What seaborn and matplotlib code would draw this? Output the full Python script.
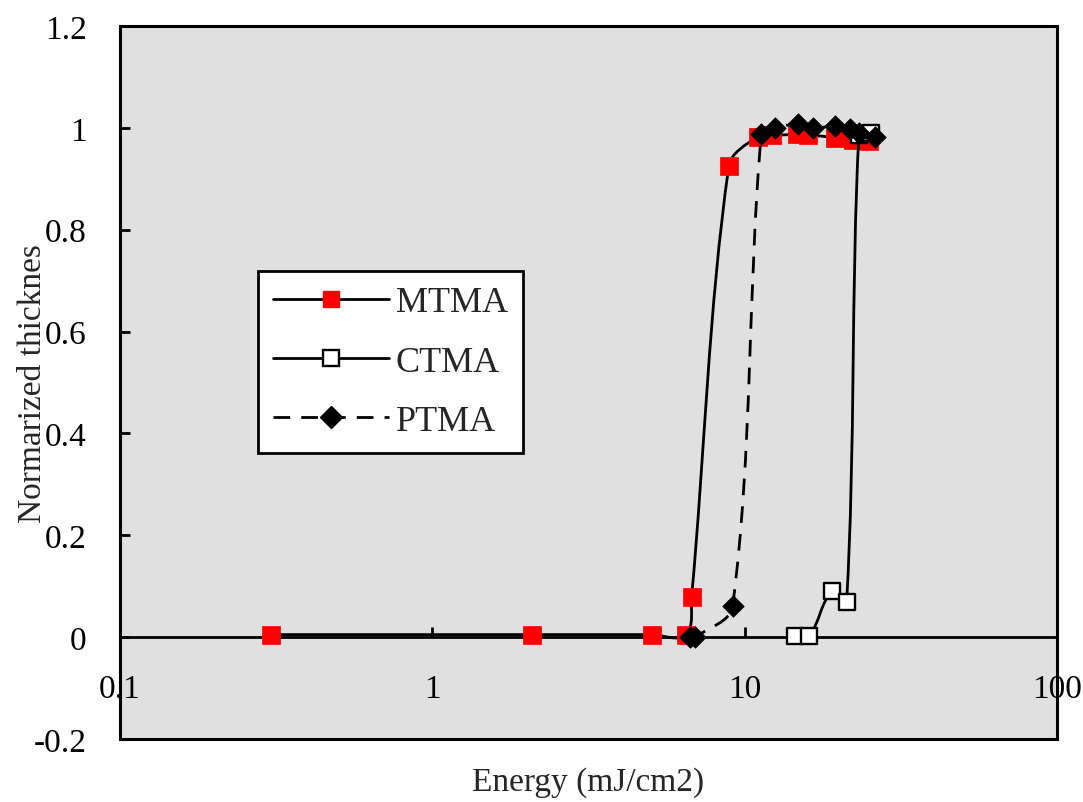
import numpy as np
import pandas as pd
import matplotlib
matplotlib.use("Agg")
import matplotlib.pyplot as plt
import seaborn as sns
from matplotlib.path import Path
from matplotlib.patches import PathPatch, Rectangle
from matplotlib.lines import Line2D
from matplotlib.ticker import FixedLocator, FixedFormatter, NullLocator

# ---- data ----
mtma_x = [0.304, 2.08, 5.04, 6.47, 6.76, 8.9, 11.0, 12.2, 14.7, 15.9, 19.4, 22.2, 25.1]
mtma_y = [0.005, 0.005, 0.005, 0.005, 0.078, 0.925, 0.983, 0.985, 0.987, 0.986, 0.981, 0.976, 0.975]
ctma_x = [14.45, 16.1, 19.1, 21.2, 23.2, 25.3]
ctma_y = [0.003, 0.003, 0.090, 0.069, 0.985, 0.990]
ptma_x = [6.7, 6.95, 9.15, 11.3, 12.5, 14.8, 16.5, 19.5, 21.8, 23.3, 26.1]
ptma_y = [0.0, 0.0, 0.061, 0.987, 1.0, 1.007, 1.0, 1.003, 0.997, 0.990, 0.983]

series_names = ["MTMA", "CTMA", "PTMA"]
x_ticks = [0.1, 1, 10, 100]
x_tick_labels = ["0.1", "1", "10", "100"]
y_ticks = [-0.2, 0, 0.2, 0.4, 0.6, 0.8, 1.0, 1.2]
y_tick_labels = ["-0.2", "0", "0.2", "0.4", "0.6", "0.8", "1", "1.2"]

sns.set_style("white")
plt.rcParams["font.family"] = ["Liberation Serif", "DejaVu Serif"]

W, H = 1083, 803
L, R, T, B = 120, 1057, 27, 740
fig = plt.figure(figsize=(W / 100, H / 100), dpi=100)
ax = fig.add_axes([L / W, 1 - B / H, (R - L) / W, (B - T) / H])
ax.set_facecolor("#e0e0e0")

# screen scale (pixels per decade / per y unit) used for smoothing geometry
PX_DEC = (R - L) / 3.0
PX_Y = (B - T) / 1.4


def smooth_path(xs, ys, k=0.33):
    """Excel-like smoothed line: Bezier segments whose tangents follow the
    neighbouring points, with handle length tied to the segment length."""
    P = np.column_stack([np.log10(xs) * PX_DEC, np.asarray(ys, float) * PX_Y])
    n = len(P)
    verts = [P[0]]
    codes = [Path.MOVETO]

    def unit(v):
        d = np.hypot(*v)
        return v / d if d > 0 else v

    for i in range(n - 1):
        p0 = P[i - 1] if i > 0 else P[i]
        p1, p2 = P[i], P[i + 1]
        p3 = P[i + 2] if i + 2 < n else P[i + 1]
        seg = np.hypot(*(p2 - p1)) * k
        c1 = p1 + unit(p2 - p0) * seg
        c2 = p2 - unit(p3 - p1) * seg
        verts += [c1, c2, p2]
        codes += [Path.CURVE4] * 3
    verts = np.array(verts)
    verts[:, 0] = 10 ** (verts[:, 0] / PX_DEC)
    verts[:, 1] = verts[:, 1] / PX_Y
    return Path(verts, codes)


lw = 2.0
dash = (0, (6, 4))
ls_styles = ["-", "-", dash]
all_x = [mtma_x, ctma_x, ptma_x]
all_y = [mtma_y, ctma_y, ptma_y]
for xs, ys, ls, z in zip(all_x, all_y, ls_styles, [3, 4, 5]):
    ax.add_patch(PathPatch(smooth_path(xs, ys), facecolor="none", edgecolor="black",
                           lw=lw, linestyle=ls, zorder=z))

df_m = pd.DataFrame({"x": mtma_x, "y": mtma_y})
df_c = pd.DataFrame({"x": ctma_x, "y": ctma_y})
df_p = pd.DataFrame({"x": ptma_x, "y": ptma_y})
sns.scatterplot(data=df_m, x="x", y="y", marker="s", s=150, color="red",
                edgecolor="red", linewidth=0.5, ax=ax, zorder=3.5)
sns.scatterplot(data=df_c, x="x", y="y", marker="s", s=120, color="white",
                edgecolor="black", linewidth=1.7, ax=ax, zorder=4.5)
sns.scatterplot(data=df_p, x="x", y="y", marker="D", s=120, color="black",
                edgecolor="black", linewidth=0.5, ax=ax, zorder=5.5)

ax.set_xscale("log")
ax.set_xlim(0.1, 100)
ax.set_ylim(-0.2, 1.2)

ax.xaxis.set_major_locator(FixedLocator(x_ticks))
ax.xaxis.set_major_formatter(FixedFormatter(x_tick_labels))
ax.xaxis.set_minor_locator(NullLocator())
ax.yaxis.set_major_locator(FixedLocator(y_ticks))
ax.yaxis.set_major_formatter(FixedFormatter(y_tick_labels))

# axis line at y=0, full frame around the plot area
ax.spines["bottom"].set_position(("data", 0))
for s in ax.spines.values():
    s.set_color("black")
    s.set_linewidth(2)
ax.add_patch(Rectangle((0, 0), 1, 1, transform=ax.transAxes, fill=False,
                       edgecolor="black", lw=2.2, zorder=6, clip_on=False))

fs = 24
ax.tick_params(axis="x", direction="in", length=7, width=2, pad=26,
               labelsize=fs, colors="black", bottom=True)
ax.tick_params(axis="y", direction="in", length=7, width=2, pad=24,
               labelsize=fs, colors="black", left=True)

ax.set_xlabel("Energy (mJ/cm2)", fontsize=fs)
ax.set_ylabel("Normarized thicknes", fontsize=fs)
ax.xaxis.set_label_coords(0.5, -0.038)
ax.yaxis.set_label_coords(-0.077, 0.5)

handles = [
    Line2D([], [], color="black", lw=lw, marker="s", markersize=12,
           markerfacecolor="red", markeredgecolor="red"),
    Line2D([], [], color="black", lw=lw, marker="s", markersize=11,
           markerfacecolor="white", markeredgecolor="black", markeredgewidth=1.7),
    Line2D([], [], color="black", lw=lw, linestyle=dash, marker="D",
           markersize=11, markerfacecolor="black", markeredgecolor="black"),
]
leg = ax.legend(handles, series_names, loc="upper left",
                bbox_to_anchor=(138 / (R - L), (B - 272) / (B - T)), fontsize=26,
                frameon=True, fancybox=False, framealpha=1, edgecolor="black",
                handlelength=3.2, handletextpad=0.2, labelspacing=0.72,
                borderpad=0.42, borderaxespad=0)
leg.get_frame().set_linewidth(2)
leg.get_frame().set_facecolor("white")
leg.set_zorder(7)

fig.savefig("out.png", dpi=100)
